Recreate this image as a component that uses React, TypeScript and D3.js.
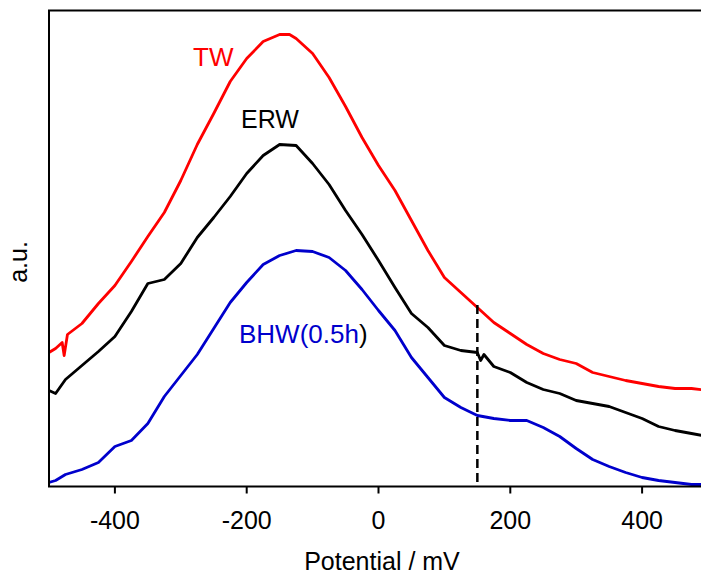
import React from "react";
import * as d3 from "d3";

// Potential grid (mV) for each series
const potTW = [-500,-490,-480,-477,-472,-450,-425,-400,-375,-350,-325,-300,-275,-250,-225,-200,-175,-150,-135,-125,-100,-75,-50,-25,0,25,50,75,100,125,150,175,200,225,250,275,300,325,350,375,400,425,450,475,500];
const valTW = [134,138,144,131,152,163,183,201,225,250,274,306,342,373,405,428,445,452,452,448,433,409,380,349,321,296,266,236,209,194,179,164,153,142,133,127,123,114,110,106,103,100,98,98,96];

const potERW = [-500,-490,-475,-450,-425,-400,-375,-350,-325,-300,-275,-250,-225,-200,-175,-150,-125,-100,-75,-50,-25,0,25,50,75,100,125,150,155,160,175,200,225,250,275,300,325,350,375,400,425,450,475,500];
const valERW = [96,93,107,121,135,150,175,203,207,223,249,269,290,313,331,342,341,323,302,276,252,226,199,173,159,141,136,134,126,132,120,114,104,97,93,86,83,80,74,68,60,56,53,50];

const potBHW = [-500,-490,-475,-450,-425,-400,-375,-350,-325,-300,-275,-250,-225,-200,-175,-150,-125,-100,-75,-50,-25,0,25,50,75,100,125,150,175,200,225,250,275,300,325,350,375,400,425,450,475,500];
const valBHW = [4,6,12,17,24,40,46,63,90,111,132,158,184,204,222,231,236,235,229,216,197,176,156,129,109,89,79,71,68,66,66,59,50,38,27,20,14,9,6,4,2,2];

const xTicks = [-400, -200, 0, 200, 400];
const markerPotential = 150;

const W = 701, H = 577;
const left = 49, top = 10.5, bottom = 486.5, right = 708;

export default function App() {
  const x = d3.scaleLinear().domain([-500, 500]).range([left, right]);
  const y = d3.scaleLinear().domain([0, 476]).range([bottom, top]);
  const line = d3.line<[number, number]>().x(d => x(d[0])).y(d => y(d[1]));
  const mk = (p: number[], v: number[]) => line(p.map((pp, i) => [pp, v[i]] as [number, number])) || "";
  const font = "'Liberation Sans', Arial, sans-serif";
  return (
    <svg width={W} height={H} style={{ position: "absolute", left: 0, top: 0, background: "#fff" }} fontFamily={font}>
      <defs>
        <clipPath id="plot"><rect x={left} y={top} width={right - left} height={bottom - top} /></clipPath>
      </defs>
      <g clipPath="url(#plot)" fill="none" strokeWidth={2.8} strokeLinejoin="round">
        <path d={mk(potTW, valTW)} stroke="#ff0000" />
        <path d={mk(potERW, valERW)} stroke="#000000" />
        <path d={mk(potBHW, valBHW)} stroke="#0000cc" />
      </g>
      <line x1={x(markerPotential)} x2={x(markerPotential)} y1={305} y2={bottom} stroke="#000" strokeWidth={2.5} strokeDasharray="9,5" />
      <rect x={left} y={top} width={right - left} height={bottom - top} fill="none" stroke="#000" strokeWidth={2} />
      {xTicks.map(t => (
        <g key={t}>
          <line x1={x(t)} x2={x(t)} y1={bottom} y2={bottom + 7} stroke="#000" strokeWidth={2} />
          <text x={x(t)} y={529} textAnchor="middle" fontSize={25} fill="#000">{t}</text>
        </g>
      ))}
      <text x={382} y={570} textAnchor="middle" fontSize={25} fill="#000">Potential / mV</text>
      <text transform="translate(27,262) rotate(-90)" textAnchor="middle" fontSize={25} fill="#000">a.u.</text>
      <text x={193} y={66} fontSize={26} fill="#ff0000">TW</text>
      <text x={241} y={128} fontSize={25} fill="#000">ERW</text>
      <text x={239} y={343} fontSize={26} fill="#0000cc">BHW(0.5h<tspan fill="#000">)</tspan></text>
    </svg>
  );
}
